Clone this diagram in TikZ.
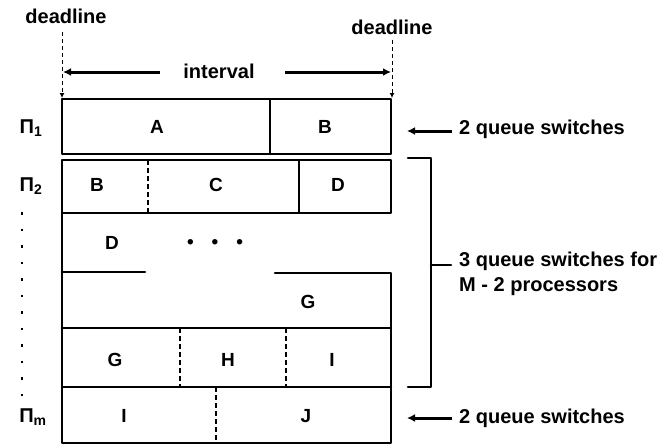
\documentclass[tikz,border=0pt]{standalone}
\usepackage{fontspec}
\setmainfont{Liberation Sans}
\usetikzlibrary{arrows.meta}
\begin{document}
\begin{tikzpicture}[x=1pt,y=-1pt,
  frame/.style={line width=2.6pt,line cap=round,line join=round},
  split/.style={line width=1.2pt,dash pattern=on 5pt off 3pt},
  splitsolid/.style={line width=1.2pt},
  job/.style={font=\fontsize{19}{19}\selectfont\bfseries,inner sep=0pt},
  proc/.style={font=\fontsize{20}{20}\selectfont\bfseries,inner sep=0pt},
  note/.style={font=\fontsize{20}{25}\selectfont\bfseries,inner sep=0pt,anchor=west,align=left},
  marker/.style={font=\fontsize{20}{20}\selectfont\bfseries,inner sep=0pt},
  bigarrow/.style={line width=3pt,-{Latex[length=8pt,width=8pt]}},
  guide/.style={line width=1pt,dash pattern=on 4pt off 3pt,-{Latex[length=5pt,width=5pt]}}]
\useasboundingbox (0,0) rectangle (668,445);

% deadline markers and interval
\node[marker] (dl1) at (66,16) {deadline};
\node[marker] (dl2) at (392,27) {deadline};
\coordinate (b1) at (62,98);
\coordinate (b2) at (392,98);
\draw[guide] (62,32) -- (b1);
\draw[guide] (392,40) -- (b2);
\node[marker] (iv) at (219,71) {interval};
\coordinate (ivl) at (63,72);
\coordinate (ivr) at (391,72);
\draw[bigarrow] (160,72) -- (ivl);
\draw[bigarrow] (285,72) -- (ivr);

% processor rows
\draw[frame] (62,99) rectangle (391,154);
\draw[frame] (62,160) rectangle (391,213);
\draw[frame] (145,272) -- (62,272);
\draw[frame] (62,213) -- (62,443) -- (391,443) -- (391,273) -- (275,273);
\draw[frame] (62,328) -- (391,328);
\draw[frame] (62,387) -- (391,387);

% job boundaries
\draw[splitsolid] (270,99) -- (270,154);
\draw[split] (148,160) -- (148,213);
\draw[splitsolid] (299,160) -- (299,213);
\draw[split] (180,328) -- (180,387);
\draw[split] (286,328) -- (286,387);
\draw[split] (216,387) -- (216,443);

% jobs
\node[job] (a1) at (157,127) {A};
\node[job] (b1j) at (325,127) {B};
\node[job] (b2j) at (97,185) {B};
\node[job] (c2) at (216,185) {C};
\node[job] (d2) at (338,185) {D};
\node[job] (d3) at (112,243) {D};
\node[job] (dots) at (215,244) {\textbullet\hspace{18pt}\textbullet\hspace{18pt}\textbullet};
\node[job] (g4) at (308,302) {G};
\node[job] (g5) at (115,360) {G};
\node[job] (h5) at (228,360) {H};
\node[job] (i5) at (332,360) {I};
\node[job] (i6) at (124,416) {I};
\node[job] (j6) at (306,416) {J};

% processors
\node[proc] (p1) at (31,128) {Π\textsubscript{1}};
\node[proc] (p2) at (31,186) {Π\textsubscript{2}};
\node[proc] (pm) at (33,417) {Π\textsubscript{m}};
\draw[line width=1.5pt,dash pattern=on 2.5pt off 14pt] (22,212) coordinate (dtop) -- (22,402) coordinate (dbot);

% queue switch annotations
\node[note] (q1) at (459,129) {2 queue switches};
\coordinate (q1t) at (407,131);
\draw[bigarrow] (q1.west) ++(-7,2) -- (q1t);
\node[note] (qm) at (459,274) {3 queue switches for\\M - 2 processors};
\node[note] (q2) at (459,418) {2 queue switches};
\coordinate (q2t) at (407,418);
\draw[bigarrow] (q2.west) ++(-7,0) -- (q2t);
\draw[frame] (408,158) -- (431,158) -- (431,387) -- (408,387);
\coordinate (bm) at (431,265);
\draw[frame] (bm) -- (451,265);
\end{tikzpicture}
\end{document}
